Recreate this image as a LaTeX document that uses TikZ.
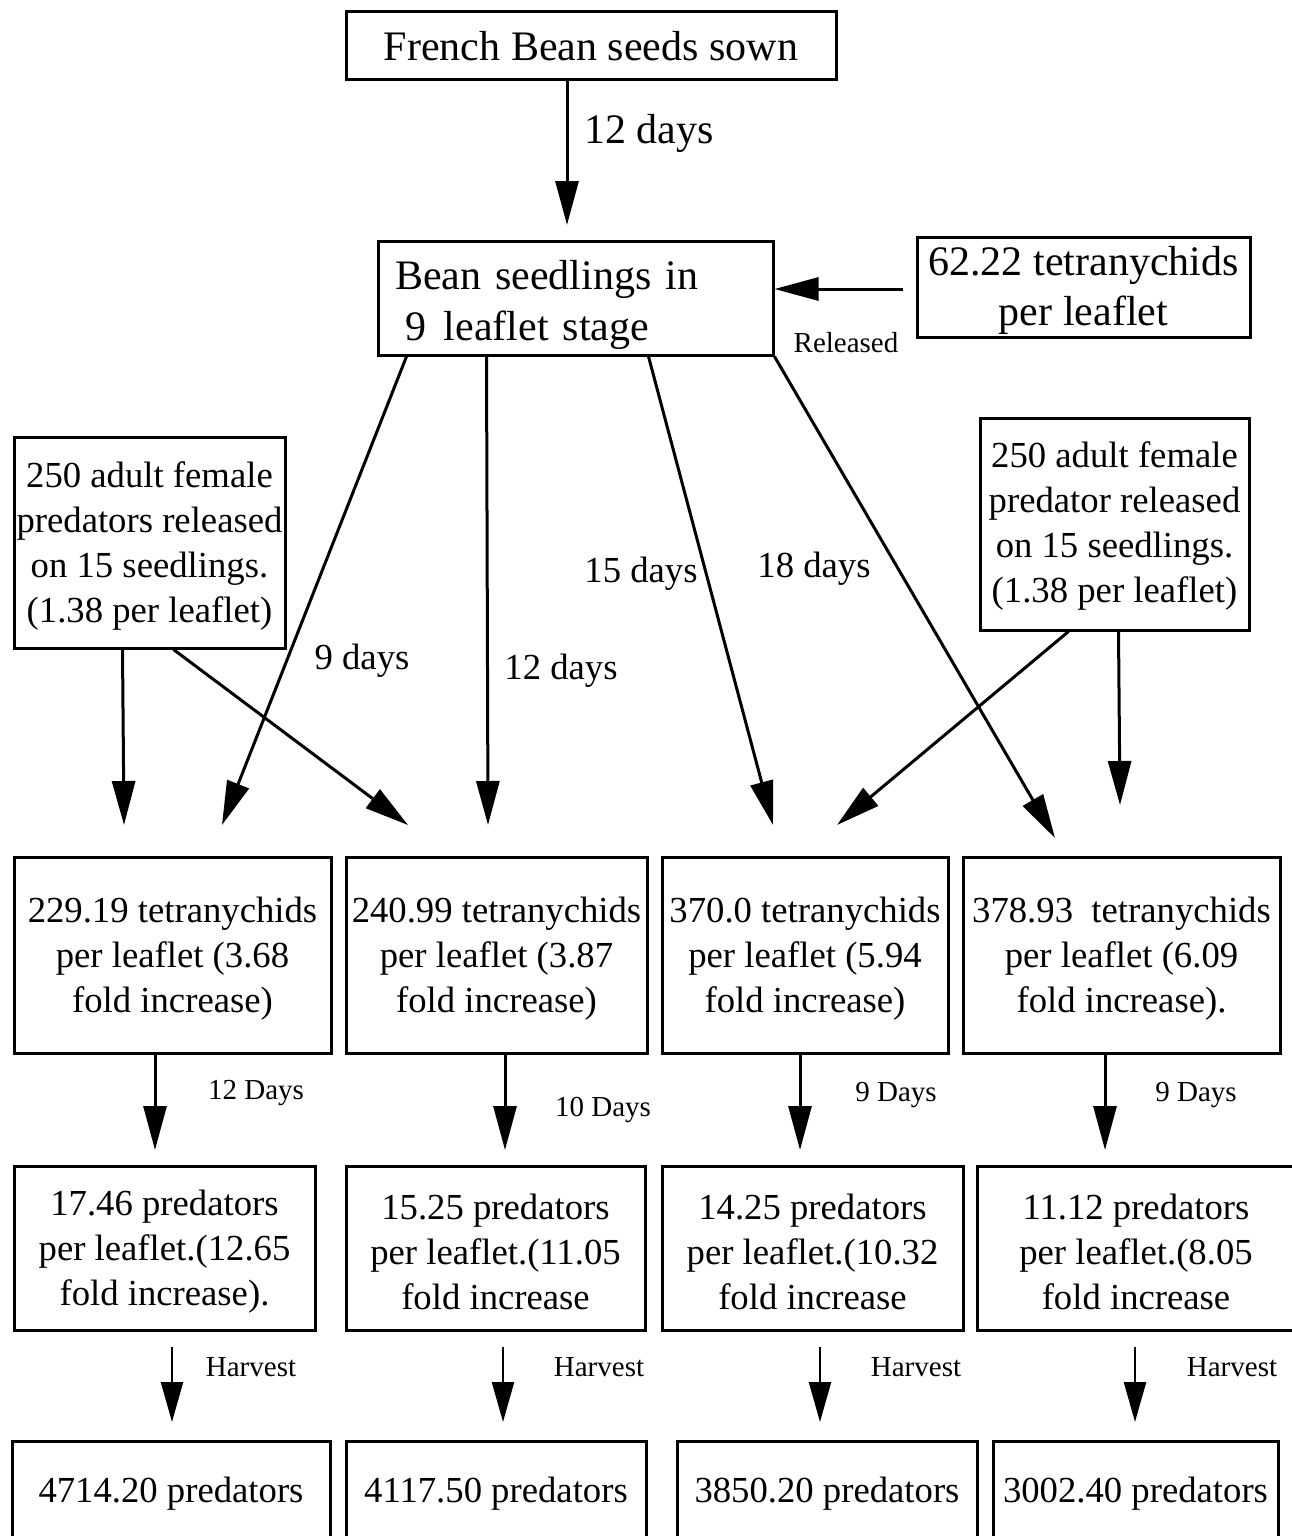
\documentclass[tikz,border=0pt]{standalone}
\usepackage{fontspec}
\setmainfont{Liberation Serif}
\usetikzlibrary{arrows.meta}
\newcommand\mystrut[1]{\rule{0pt}{#1}}
\begin{document}
\begin{tikzpicture}[x=1pt,y=-1pt]
\tikzset{
 box/.style={draw, line width=3pt, inner sep=0pt, align=center, font=\fontsize{36.7}{45}\selectfont},
 bigbox/.style={box, font=\fontsize{42}{51}\selectfont},
 arr/.style={line width=3pt, -{Triangle[length=44pt,width=23pt]}},
 harr/.style={line width=2.4pt, -{Triangle[length=40pt,width=22pt]}},
 lab/.style={font=\fontsize{36.7}{45}\selectfont, inner sep=0pt},
 biglab/.style={font=\fontsize{42}{51}\selectfont, inner sep=0pt},
 slab/.style={font=\fontsize{29}{34}\selectfont, inner sep=0pt},
}
\fill[white] (0,0) rectangle (1292,1536);
\useasboundingbox (0,0) rectangle (1292,1536);
\clip (0,0) rectangle (1292,1536);

% top
\node[bigbox, minimum width=490pt, minimum height=68pt] (seeds) at (591,46) {French Bean seeds sown};
\node[bigbox, minimum width=395pt, minimum height=114pt, text width=361pt, align=left] (bean) at (575.5,298)
  {\mystrut{43pt}Bean seedlings in\\\hspace*{10pt}9\hspace*{18pt}leaflet stage};
\node[bigbox, minimum width=333pt, minimum height=100pt, font=\fontsize{42}{50}\selectfont] (mites) at (1083.5,287) {\mystrut{35pt}62.22 tetranychids\\per leaflet};

% predator releases
\node[box, minimum width=271pt, minimum height=211pt] (predL) at (149.5,542.5)
  {\mystrut{33pt}250 adult female\\predators released\\on 15 seedlings.\\(1.38 per leaflet)};
\node[box, minimum width=269pt, minimum height=212pt] (predR) at (1114.5,524)
  {\mystrut{30pt}250 adult female\\predator released\\on 15 seedlings.\\(1.38 per leaflet)};

% row 3
\node[box, minimum width=317pt, minimum height=196pt] (t1) at (172.5,955) {\mystrut{33pt}229.19 tetranychids\\per leaflet (3.68\\fold increase)};
\node[box, minimum width=301pt, minimum height=196pt] (t2) at (496.5,955) {\mystrut{33pt}240.99 tetranychids\\per leaflet (3.87\\fold increase)};
\node[box, minimum width=286pt, minimum height=196pt] (t3) at (805,955) {\mystrut{33pt}370.0 tetranychids\\per leaflet (5.94\\fold increase)};
\node[box, minimum width=317pt, minimum height=196pt] (t4) at (1121.5,955) {\mystrut{33pt}378.93\ \ tetranychids\\per leaflet (6.09\\fold increase).};

% row 4
\node[box, minimum width=301pt, minimum height=164pt] (p1) at (164.5,1248) {\mystrut{33pt}17.46 predators\\per leaflet.(12.65\\fold increase).};
\node[box, minimum width=299pt, minimum height=164pt] (p2) at (495.5,1248) {\mystrut{33pt}15.25 predators\\per leaflet.(11.05\\fold increase};
\node[box, minimum width=301pt, minimum height=164pt] (p3) at (812.5,1248) {\mystrut{33pt}14.25 predators\\per leaflet.(10.32\\fold increase};
\node[box, minimum width=318pt, minimum height=164pt] (p4) at (1136,1248) {\mystrut{33pt}11.12 predators\\per leaflet.(8.05\\fold increase};

% row 5
\node[box, minimum width=318pt, minimum height=100pt] (h1) at (171,1491) {\mystrut{31pt}4714.20 predators};
\node[box, minimum width=300pt, minimum height=100pt] (h2) at (496,1491) {\mystrut{31pt}4117.50 predators};
\node[box, minimum width=300pt, minimum height=100pt] (h3) at (827,1491) {\mystrut{31pt}3850.20 predators};
\node[box, minimum width=285pt, minimum height=100pt] (h4) at (1135.5,1491) {\mystrut{31pt}3002.40 predators};

% arrows
\coordinate (k0) at (567,225);
\draw[arr] (seeds.south -| k0) -- (k0);
\coordinate (relS) at (903,289);
\draw[arr] (relS) -- (bean.east |- relS);

\coordinate (a1) at (222,825);
\coordinate (a2) at (488,825);
\coordinate (a3) at (773,825);
\coordinate (a4) at (1055,838);
\draw[arr] ([xshift=30pt]bean.south west) -- (a1);
\draw[arr] ([xshift=110pt]bean.south west) -- (a2);
\draw[arr] ([xshift=272pt]bean.south west) -- (a3);
\draw[arr] (bean.south east) -- (a4);

\coordinate (b1) at (124,825);
\coordinate (b2) at (408,825);
\draw[arr] ([xshift=110pt]predL.south west) -- (b1);
\draw[arr] ([xshift=161pt]predL.south west) -- (b2);

\coordinate (c1) at (837,825);
\coordinate (c2) at (1120,805);
\draw[arr] ([xshift=90pt]predR.south west) -- (c1);
\draw[arr] ([xshift=140pt]predR.south west) -- (c2);

\coordinate (d1) at (155,1150);
\coordinate (d2) at (505,1150);
\coordinate (d3) at (800,1150);
\coordinate (d4) at (1105,1150);
\draw[arr] (t1.south -| d1) -- (d1);
\draw[arr] (t2.south -| d2) -- (d2);
\draw[arr] (t3.south -| d3) -- (d3);
\draw[arr] (t4.south -| d4) -- (d4);

\coordinate (e1s) at (172,1347); \coordinate (e1) at (172,1422);
\coordinate (e2s) at (503,1347); \coordinate (e2) at (503,1422);
\coordinate (e3s) at (820,1347); \coordinate (e3) at (820,1422);
\coordinate (e4s) at (1135,1347); \coordinate (e4) at (1135,1422);
\draw[harr] (e1s) -- (e1);
\draw[harr] (e2s) -- (e2);
\draw[harr] (e3s) -- (e3);
\draw[harr] (e4s) -- (e4);

% labels
\node[biglab] (l0) at (649,133) {12 days};
\node[slab] (lrel) at (846,343) {Released};
\node[lab] (l9) at (362,661) {9 days};
\node[lab] (l12) at (561,671) {12 days};
\node[lab] (l15) at (641,574) {15 days};
\node[lab] (l18) at (814,569) {18 days};
\node[slab] (m1) at (256,1093) {12 Days};
\node[slab] (m2) at (603,1110) {10 Days};
\node[slab] (m3) at (896,1095) {9 Days};
\node[slab] (m4) at (1196,1095) {9 Days};
\node[slab] (v1) at (251,1367) {Harvest};
\node[slab] (v2) at (599,1367) {Harvest};
\node[slab] (v3) at (916,1367) {Harvest};
\node[slab] (v4) at (1232,1367) {Harvest};
\end{tikzpicture}
\end{document}
